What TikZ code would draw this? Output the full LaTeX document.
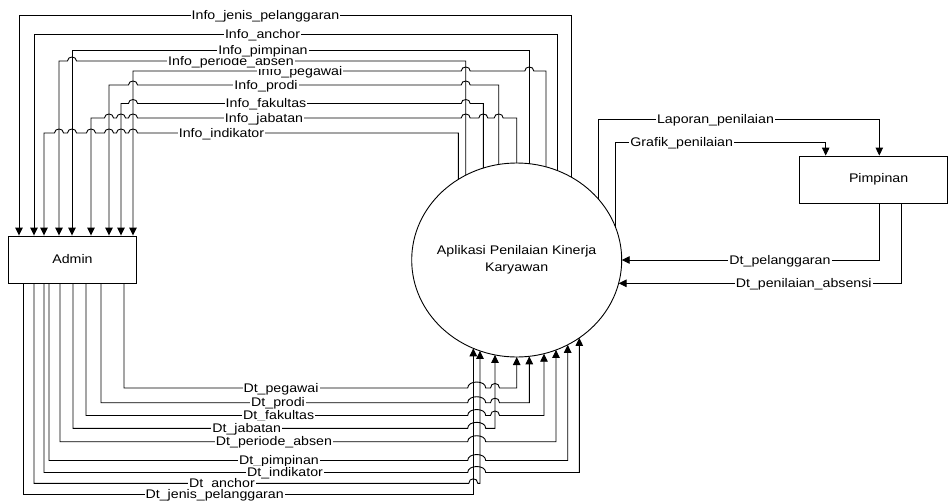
\documentclass[tikz,border=0pt]{standalone}
\usepackage{fontspec}
\setmainfont{Liberation Sans}
\usetikzlibrary{arrows.meta,shapes.geometric}
\newcommand{\hop}[4]{-- ({#1-#3},#2) .. controls ({#1-#3},{#2-1.33*#4}) and ({#1+#3},{#2-1.33*#4}) .. ({#1+#3},#2)}
\newcommand{\sqz}[1]{\scalebox{1}[0.88]{#1}}
\begin{document}
\begin{tikzpicture}[x=1pt,y=-1pt,line width=0.9pt,
  >={Triangle[length=8pt,width=7.5pt]},
  lbl/.style={fill=white,inner xsep=1pt,inner ysep=1pt,text height=10pt,text depth=3pt,anchor=base,yshift=-4pt,font=\fontsize{14.2}{17}\selectfont},
  box/.style={draw,inner sep=0pt,font=\fontsize{14.2}{17}\selectfont},
  sj/.style={}]
\fill[white] (0,0) rectangle (948,501);
\useasboundingbox (0,0) rectangle (948,501);

% nodes
\node[box,minimum width=128.4pt,minimum height=47pt] (admin) at (72.5,259.5) {\sqz{Admin}};
\node[box,minimum width=148.5pt,minimum height=47pt] (pimpinan) at (873.25,179.5) {\hspace*{10.7pt}\sqz{Pimpinan}};
\node[draw,ellipse,inner sep=0pt,minimum width=210pt,minimum height=194pt] (app) at (516.7,260) {};
\node[align=center,font=\fontsize{14.2}{17}\selectfont] (apptext) at (app.center) {\sqz{Aplikasi Penilaian Kinerja}\\\sqz{Karyawan}};

% ellipse boundary points (top)
\coordinate (t1) at (571,177.0);
\coordinate (t2) at (557.3,170.5);
\coordinate (t3) at (529.3,163.7);
\coordinate (t4) at (465.7,175.2);
\coordinate (t5) at (546,166.9);
\coordinate (t6) at (498.7,164.4);
\coordinate (t7) at (483.3,168.0);
\coordinate (t8) at (516.7,163.0);
\coordinate (t9) at (458.3,179.4);
% ellipse boundary points (bottom)
\coordinate (b1) at (516.7,357.0);
\coordinate (b2) at (529.3,356.3);
\coordinate (b3) at (544,353.7);
\coordinate (b4) at (495,354.9);
\coordinate (b5) at (556,349.9);
\coordinate (b6) at (567.7,344.8);
\coordinate (b7) at (579.3,337.9);
\coordinate (b8) at (480,350.9);
\coordinate (b9) at (473.3,348.3);
% ellipse boundary points (right)
\coordinate (r1) at (598.3,199.0);
\coordinate (r2) at (615.7,227.7);
\coordinate (r3) at (621.7,260);
\coordinate (r4) at (618.6,283.3);

% Info flows (to Admin)
\draw[<-] (19,0 |- admin.north) -- (19,15) -- (571,15) -- (t1);
\draw[<-] (34,0 |- admin.north) -- (34,34) -- (557.3,34) -- (t2);
\draw[<-] (72,0 |- admin.north) -- (72,50) -- (529.3,50) -- (t3);
\draw[<-] (59,0 |- admin.north) -- (59,61) \hop{72}{61}{4.5}{4} -- (465.7,61) -- (t4);
\draw[<-] (133,0 |- admin.north) -- (133,71) \hop{465.7}{71}{4.5}{4} \hop{529.3}{71}{4.5}{4} -- (546,71) -- (t5);
\draw[<-] (109,0 |- admin.north) -- (109,85) \hop{133}{85}{4.5}{4} \hop{465.7}{85}{4.5}{4} -- (498.7,85) -- (t6);
\draw[<-] (121,0 |- admin.north) -- (121,103.5) \hop{133}{103.5}{4.5}{4} \hop{465.7}{103.5}{4.5}{4} -- (483.3,103.5) -- (t7);
\draw[<-] (91,0 |- admin.north) -- (91,118) \hop{109}{118}{4.5}{4} \hop{121}{118}{4.5}{4} \hop{133}{118}{4.5}{4} \hop{465.7}{118}{4.5}{4} \hop{483.3}{118}{4.5}{4} \hop{498.7}{118}{4.5}{4} -- (516.7,118) -- (t8);
\draw[<-] (44,0 |- admin.north) -- (44,133) \hop{59}{133}{4.5}{4} \hop{72}{133}{4.5}{4} \hop{91}{133}{4.5}{4} \hop{109}{133}{4.5}{4} \hop{121}{133}{4.5}{4} \hop{133}{133}{4.5}{4} -- (458.3,133) -- (t9);

% Dt flows (to application)
\draw[->] (124,0 |- admin.south) -- (124,388) \hop{476.7}{388}{9}{6} \hop{495}{388}{4.5}{4.5} -- (516.7,388) -- (b1);
\draw[->] (101,0 |- admin.south) -- (101,402.7) \hop{476.7}{402.7}{9}{6} \hop{495}{402.7}{4.5}{4.5} -- (529.3,402.7) -- (b2);
\draw[->] (86,0 |- admin.south) -- (86,415.5) \hop{476.7}{415.5}{9}{6} \hop{495}{415.5}{4.5}{4.5} -- (544,415.5) -- (b3);
\draw[->] (73,0 |- admin.south) -- (73,428.3) \hop{476.7}{428.3}{9}{6} -- (495,428.3) -- (b4);
\draw[->] (60,0 |- admin.south) -- (60,441.7) \hop{476.7}{441.7}{9}{6} -- (556,441.7) -- (b5);
\draw[->] (49,0 |- admin.south) -- (49,460.5) \hop{476.7}{460.5}{9}{6} -- (567.7,460.5) -- (b6);
\draw[->] (44,0 |- admin.south) -- (44,472.5) \hop{476.7}{472.5}{9}{6} -- (579.3,472.5) -- (b7);
\draw[->] (34,0 |- admin.south) -- (34,483.3) \hop{473.3}{483.3}{4.5}{4.5} -- (480,483.3) -- (b8);
\draw[->] (23.7,0 |- admin.south) -- (23.7,494.5) -- (473.3,494.5) -- (b9);

% Pimpinan flows
\draw[->] (r1) -- (598.3,119) -- (879.3,119) -- (879.3,0 |- pimpinan.north);
\draw[->] (r2) -- (615.7,142.7) -- (825.7,142.7) -- (825.7,0 |- pimpinan.north);
\draw[->] (879.3,0 |- pimpinan.south) -- (879.3,260) -- (r3);
\draw[->] (901.7,0 |- pimpinan.south) -- (901.7,283.3) -- (r4);

% labels top (drawn bottom to top)
\node[lbl] (l9) at (221.5,133) {\sqz{Info\_indikator}};
\node[lbl] (l8) at (264,118) {\sqz{Info\_jabatan}};
\node[lbl] (l7) at (266,103.5) {\sqz{Info\_fakultas}};
\node[lbl] (l6) at (266,85) {\sqz{Info\_prodi}};
\node[lbl] (l5) at (300,71) {\sqz{Info\_pegawai}};
\node[lbl] (l4) at (231,61) {\sqz{Info\_periode\_absen}};
\node[lbl] (l3) at (263,50) {\sqz{Info\_pimpinan}};
\node[lbl] (l2) at (262.5,34) {\sqz{Info\_anchor}};
\node[lbl] (l1) at (265.5,15) {\sqz{Info\_jenis\_pelanggaran}};
% labels bottom (drawn top to bottom)
\node[lbl] (d1) at (281,388) {\sqz{Dt\_pegawai}};
\node[lbl] (d2) at (278,402.7) {\sqz{Dt\_prodi}};
\node[lbl] (d3) at (278.6,415.5) {\sqz{Dt\_fakultas}};
\node[lbl] (d4) at (246.7,428.3) {\sqz{Dt\_jabatan}};
\node[lbl] (d5) at (274,441.7) {\sqz{Dt\_periode\_absen}};
\node[lbl] (d6) at (279,460.5) {\sqz{Dt\_pimpinan}};
\node[lbl] (d7) at (285,472.5) {\sqz{Dt\_indikator}};
\node[lbl] (d8) at (222,483.3) {\sqz{Dt\_anchor}};
\node[lbl] (d9) at (214.7,494.5) {\sqz{Dt\_jenis\_pelanggaran}};
% labels right
\node[lbl] (p1) at (715.5,119) {\sqz{Laporan\_penilaian}};
\node[lbl] (p2) at (681.7,142.7) {\sqz{Grafik\_penilaian}};
\node[lbl] (p3) at (780,260) {\sqz{Dt\_pelanggaran}};
\node[lbl] (p4) at (803.7,283.3) {\sqz{Dt\_penilaian\_absensi}};
\end{tikzpicture}
\end{document}
